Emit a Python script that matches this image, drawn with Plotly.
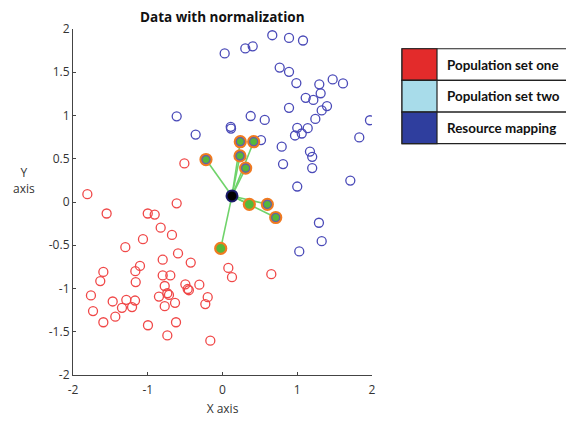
import plotly.graph_objects as go

# ---- data ----
red_x = [-1.808, -0.613, -1.55, -1.0, -0.907, -0.827, -0.676, -1.064, -1.30, -0.595,
         -0.80, -0.425, -1.104, -1.166, -1.594, -0.80, -0.698, 0.078, 0.127, 0.653,
         -1.635, -1.161, -0.497, -0.31, -0.773, -0.466, -0.45, -0.738, -0.716, -1.76,
         -0.85, -0.198, -1.287, -1.17, -1.469, -0.635, -0.23, -0.773, -1.21, -1.345,
         -1.732, -1.434, -1.594, -0.622, -0.997, -0.738, -0.163, -0.51]
red_y = [0.091, -0.015, -0.133, -0.133, -0.145, -0.297, -0.381, -0.43, -0.522, -0.594,
         -0.667, -0.70, -0.739, -0.80, -0.808, -0.849, -0.849, -0.762, -0.869, -0.834,
         -0.914, -0.926, -0.952, -0.956, -0.971, -1.006, -1.02, -1.055, -1.074, -1.08,
         -1.093, -1.10, -1.131, -1.139, -1.15, -1.166, -1.18, -1.204, -1.215, -1.223,
         -1.261, -1.326, -1.39, -1.39, -1.425, -1.543, -1.603, 0.446]

blue_x = [0.666, 0.89, 1.077, 0.029, 0.305, 0.404, 0.765, 0.89, 0.988, 1.295,
          1.474, 1.612, 1.313, 1.113, 1.215, 1.398, 1.327, 0.89, 1.242, 1.973,
          -0.613, 0.377, 0.565, 0.11, 0.114, 1.0, 1.14, 0.97, 1.06, 1.83,
          -0.359, 0.515, 0.792, 1.17, 1.20, 0.81, 1.20, 1.71, 1.0, 1.29,
          1.327, 1.027]
blue_y = [1.928, 1.897, 1.867, 1.718, 1.775, 1.80, 1.554, 1.505, 1.375, 1.36,
          1.417, 1.371, 1.257, 1.204, 1.18, 1.109, 1.059, 1.089, 0.96, 0.945,
          0.99, 0.994, 0.949, 0.869, 0.849, 0.857, 0.854, 0.769, 0.792, 0.746,
          0.78, 0.716, 0.64, 0.583, 0.522, 0.438, 0.392, 0.248, 0.179, -0.24,
          -0.453, -0.571]

# selected points mapped to the resource centre
sel_blue_x = [-0.221, 0.238, 0.417, 0.234, 0.31, 0.6, 0.712]
sel_blue_y = [0.491, 0.697, 0.697, 0.533, 0.392, -0.027, -0.179]
sel_red_x = [0.359, -0.024]
sel_red_y = [-0.027, -0.537]

center_x = [0.127]
center_y = [0.07]

x_ticks = [-2, -1, 0, 1, 2]
y_ticks = [-2, -1.5, -1, -0.5, 0, 0.5, 1, 1.5, 2]

legend_labels = ["Population set one", "Population set two", "Resource mapping"]
legend_colors = ["#e32b2b", "#a8dcea", "#2f3e9e"]

# ---- figure ----
fig = go.Figure()

# connection lines
lx, ly = [], []
for px, py in zip(sel_blue_x + sel_red_x, sel_blue_y + sel_red_y):
    lx += [center_x[0], px, None]
    ly += [center_y[0], py, None]
fig.add_trace(go.Scatter(x=lx, y=ly, mode="lines",
                         line=dict(color="#6fd36a", width=1.6), hoverinfo="skip"))

fig.add_trace(go.Scatter(x=red_x, y=red_y, mode="markers",
                         marker=dict(symbol="circle-open", size=9,
                                     color="#f04848", line=dict(width=1.3))))
fig.add_trace(go.Scatter(x=blue_x, y=blue_y, mode="markers",
                         marker=dict(symbol="circle-open", size=9,
                                     color="#4a4ab8", line=dict(width=1.3))))

# highlighted: orange ring, green fill
fig.add_trace(go.Scatter(x=sel_blue_x + sel_red_x, y=sel_blue_y + sel_red_y, mode="markers",
                         marker=dict(symbol="circle", size=11, color="#55b83a",
                                     line=dict(color="#f07a20", width=2.2))))
# blue inner ring for blue-population ones
fig.add_trace(go.Scatter(x=sel_blue_x, y=sel_blue_y, mode="markers",
                         marker=dict(symbol="circle", size=8, color="#55b83a",
                                     line=dict(color="#6a5aa8", width=1.2))))

fig.add_trace(go.Scatter(x=center_x, y=center_y, mode="markers",
                         marker=dict(symbol="circle", size=11, color="#000000",
                                     line=dict(color="#1a1a6a", width=2))))

# page has an 8px body margin; work in window pixels
OFF = 8
W, H = 574 - OFF, 426 - OFF
PL, PR, PT, PB = 73, 372, 27, 377     # plot area in window pixels
L, T = PL - OFF, PT - OFF
R = W - (PR - OFF)
B = H - (PB - OFF)
pw, ph = PR - PL, PB - PT


def px2x(p):
    return (p - PL) / pw


def py2y(p):
    return (PB - p) / ph


shapes = []
annotations = []
rows = [(47, 79), (79, 111), (111, 143)]
for (top, bot), lab, col in zip(rows, legend_labels, legend_colors):
    shapes.append(dict(type="rect", xref="paper", yref="paper",
                       x0=px2x(402), x1=px2x(590), y0=py2y(bot), y1=py2y(top),
                       line=dict(color="#222222", width=1.2), fillcolor="white"))
    shapes.append(dict(type="rect", xref="paper", yref="paper",
                       x0=px2x(402), x1=px2x(437), y0=py2y(bot), y1=py2y(top),
                       line=dict(color="#222222", width=1.2), fillcolor=col))
    annotations.append(dict(text="<b>" + lab + "</b>", xref="paper", yref="paper",
                            x=px2x(445), y=py2y((top + bot) / 2), xanchor="left",
                            yanchor="middle", showarrow=False,
                            font=dict(family="Lato", size=13.4, color="#111111")))

annotations.append(dict(text="Y<br>axis", xref="paper", yref="paper",
                        x=px2x(24), y=py2y(180), xanchor="center", yanchor="middle",
                        showarrow=False, align="center",
                        font=dict(family="Open Sans", size=12, color="#333333")))
annotations.append(dict(text="<b>Data with normalization</b>", xref="paper", yref="paper",
                        x=0.5, y=py2y(15), xanchor="center", yanchor="middle",
                        showarrow=False,
                        font=dict(family="Open Sans", size=13.5, color="#111111")))

fig.update_layout(
    width=W, height=H,
    margin=dict(l=L, r=R, t=T, b=B),
    paper_bgcolor="white", plot_bgcolor="white",
    showlegend=False,
    shapes=shapes, annotations=annotations,
    font=dict(family="Open Sans", size=12, color="#333333"),
)
fig.update_xaxes(range=[-2, 2], tickvals=x_ticks, ticktext=[str(v) for v in x_ticks],
                 showgrid=False, zeroline=False, showline=True, linecolor="#444444",
                 linewidth=1.2, ticks="inside", ticklen=3, tickcolor="#444444",
                 ticklabelstandoff=3,
                 title=dict(text="X axis", standoff=8, font=dict(size=12)))
fig.update_yaxes(range=[-2, 2], tickvals=y_ticks,
                 ticktext=[("%g" % v) for v in y_ticks],
                 showgrid=False, zeroline=False, showline=True, linecolor="#444444",
                 linewidth=1.2, ticks="inside", ticklen=3, tickcolor="#444444")

fig.write_html("out.html")
